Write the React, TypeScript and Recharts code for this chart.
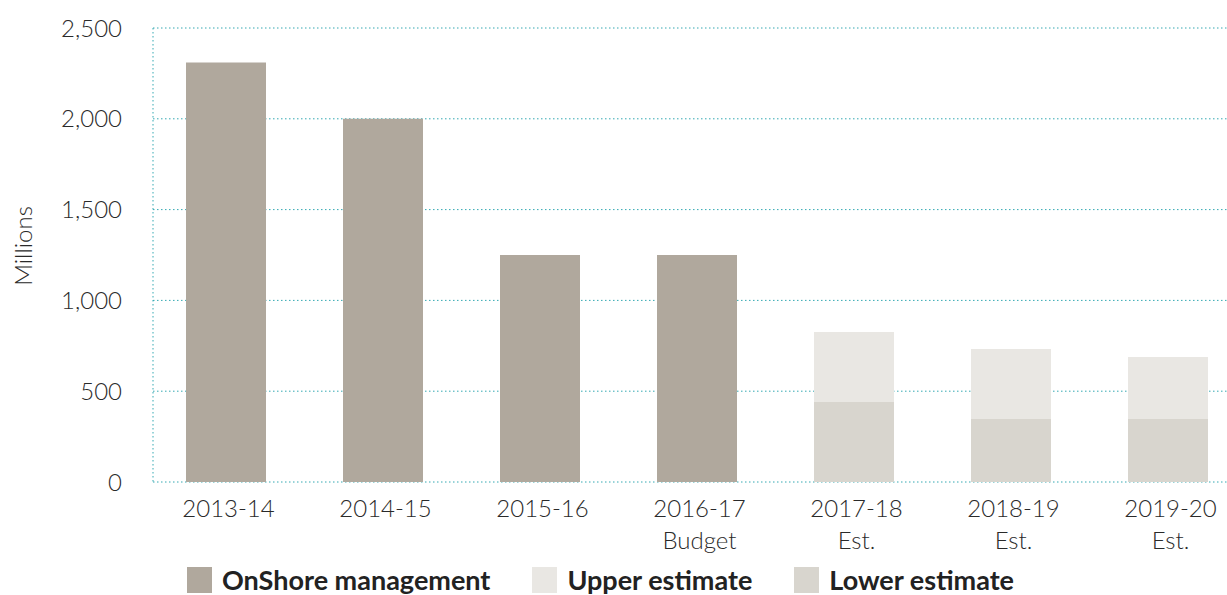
import { BarChart, Bar, XAxis, YAxis, CartesianGrid, Legend } from "recharts";

const years = ["2013-14", "2014-15", "2015-16", "2016-17", "2017-18", "2018-19", "2019-20"];
const subLabels = ["", "", "", "Budget", "Est.", "Est.", "Est."];
const onshore = [2310, 2000, 1250, 1250, 0, 0, 0];
const lowerEstimate = [0, 0, 0, 0, 440, 347, 347];
const upperEstimate = [0, 0, 0, 0, 826, 732, 688];
const yTicks = [0, 500, 1000, 1500, 2000, 2500];

const legendItems = [
	{ name: "OnShore management", color: "#b0a89d" },
	{ name: "Upper estimate", color: "#e9e7e3" },
	{ name: "Lower estimate", color: "#d8d5ce" },
];

// stacked: lower part, then the gap up to the upper estimate
const data = years.map((year, i) => ({
	year,
	onshore: onshore[i],
	lower: lowerEstimate[i],
	upperGap: upperEstimate[i] - lowerEstimate[i],
}));

const font = "Lato, 'Open Sans', sans-serif";
const gridColor = "#34a9b2";

function YearTick({ x = 0, y = 0, payload }: any) {
	const sub = subLabels[years.indexOf(payload.value)];
	return (
		<text x={x + 3} y={y} textAnchor="middle" fill="#2a2a2a" fontSize={24} fontFamily={font} fontWeight={300}>
			<tspan x={x + 3} dy={35}>{payload.value}</tspan>
			{sub && <tspan x={x + 3} dy={32}>{sub}</tspan>}
		</text>
	);
}

function MillionsLabel({ viewBox }: any) {
	const cx = 22;
	const cy = viewBox.y + viewBox.height / 2 - 9;
	return (
		<text
			x={cx}
			y={cy}
			transform={`rotate(-90 ${cx} ${cy})`}
			textAnchor="middle"
			dominantBaseline="central"
			fill="#2a2a2a"
			fontSize={24}
			fontFamily={font}
			fontWeight={300}
		>
			Millions
		</text>
	);
}

function LegendRow() {
	return (
		<div style={{ display: "flex", alignItems: "center", height: 30, paddingLeft: 187, fontFamily: font }}>
			{legendItems.map((item) => (
				<div key={item.name} style={{ display: "flex", alignItems: "center", marginRight: 42 }}>
					<div style={{ width: 25, height: 26, background: item.color, marginRight: 10 }} />
					<span style={{ fontSize: 27, fontWeight: 700, color: "#222", lineHeight: "30px" }}>{item.name}</span>
				</div>
			))}
		</div>
	);
}

export default function App() {
	return (
		<div style={{ position: "absolute", left: 0, top: 0, width: 1227, height: 595, overflow: "hidden", background: "#fff" }}>
			<BarChart width={1260} height={598} data={data} margin={{ top: 28, right: 14, bottom: 3, left: 0 }} barSize={80}>
				<CartesianGrid vertical={false} stroke={gridColor} strokeDasharray="1.5 2.5" />
				<XAxis
					dataKey="year"
					axisLine={false}
					tickLine={false}
					tickSize={0}
					tickMargin={0}
					height={83}
					padding={{ left: -6, right: 0 }}
					tick={<YearTick />}
					interval={0}
				/>
				<YAxis
					width={153}
					domain={[0, 2500]}
					ticks={yTicks}
					tickFormatter={(v) => v.toLocaleString("en-US")}
					axisLine={{ stroke: gridColor, strokeDasharray: "1.5 2.5" }}
					tickLine={false}
					tickSize={0}
					tickMargin={31}
					tick={{ fill: "#2a2a2a", fontSize: 24, fontFamily: font, fontWeight: 300 }}
					label={<MillionsLabel />}
				/>
				<Legend verticalAlign="bottom" content={<LegendRow />} />
				<Bar dataKey="onshore" stackId="a" fill="#b0a89d" isAnimationActive={false} />
				<Bar dataKey="lower" stackId="a" fill="#d8d5ce" isAnimationActive={false} />
				<Bar dataKey="upperGap" stackId="a" fill="#e9e7e3" isAnimationActive={false} />
			</BarChart>
		</div>
	);
}
